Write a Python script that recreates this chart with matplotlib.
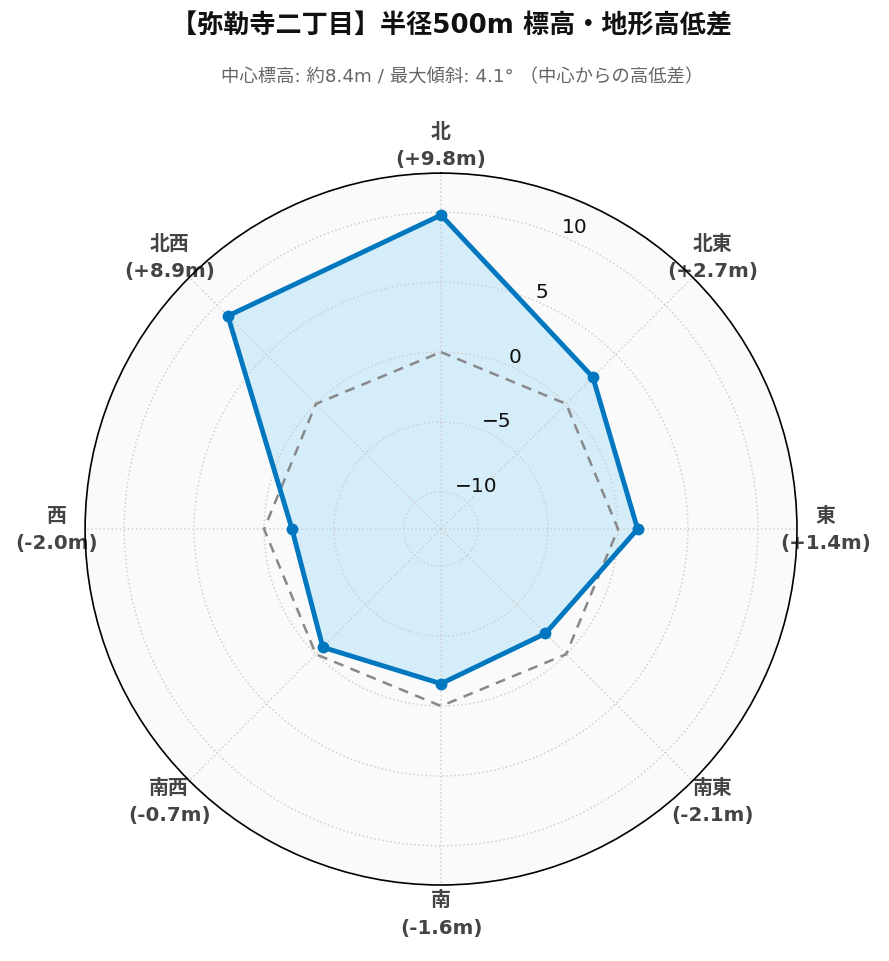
import numpy as np
import matplotlib
matplotlib.use("Agg")
import matplotlib.pyplot as plt

plt.rcParams['font.family'] = ['Noto Sans CJK JP', 'DejaVu Sans']
plt.rcParams['axes.unicode_minus'] = True

directions = ["北", "北東", "東", "南東", "南", "南西", "西", "北西"]
diffs = [9.8, 2.7, 1.4, -2.1, -1.6, -0.7, -2.0, 8.9]
baseline = [0, 0, 0, 0, 0, 0, 0, 0]
r_ticks = [-10, -5, 0, 5, 10]
r_min, r_max = -12.66, 12.8

title = "【弥勒寺二丁目】半径500m 標高・地形高低差"
subtitle = "中心標高: 約8.4m / 最大傾斜: 4.1° （中心からの高低差）"

latin_first = ['DejaVu Sans', 'Noto Sans CJK JP']

fig = plt.figure(figsize=(8.89, 9.62), dpi=100)
ax = fig.add_axes([0.0956, 0.079, 0.801, 0.740], projection='polar')
ax.set_theta_zero_location('N')
ax.set_theta_direction(-1)
ax.set_facecolor('#fafafa')

n = len(directions)
theta = np.arange(n) * 2 * np.pi / n
tc = np.append(theta, theta[0])
vc = np.append(diffs, diffs[0])
bc = np.append(baseline, baseline[0])

ax.set_ylim(r_min, r_max)
ax.fill(tc, vc, color='#3cb9f5', alpha=0.2, zorder=0.5, lw=0)
ax.plot(tc, bc, color='#888888', lw=1.8, ls=(0, (4, 3)), zorder=3)
ax.plot(tc, vc, color='#0077be', lw=3.5, zorder=4)
ax.plot(theta, diffs, 'o', color='#0077be', ms=7.5, zorder=5)

ax.set_yticks(r_ticks)
ax.set_yticklabels([f"{t}".replace('-', '\u2212') for t in r_ticks], fontsize=14.5,
                   color='#111111', family='DejaVu Sans')
ax.set_rlabel_position(22.5)

ax.set_xticks(theta)
labels = [f"{d}\n({v:+.1f}m)" for d, v in zip(directions, diffs)]
ax.set_xticklabels(labels, fontsize=14.3, fontweight='bold', color='#444444',
                   family=latin_first, linespacing=1.55)
ax.tick_params(axis='x', pad=10)

ax.grid(True, color='#d0d0d0', ls=':', lw=1.1)
ax.spines['polar'].set_color('black')
ax.spines['polar'].set_linewidth(1.2)

fig.text(0.508, 0.972, title, ha='center', va='center', fontsize=18.8, fontweight='bold',
         color='#111111', family=latin_first)
fig.text(0.52, 0.920, subtitle, ha='center', va='center', fontsize=13.2, color='#666666',
         family=latin_first)

fig.savefig('out.png', dpi=100)
